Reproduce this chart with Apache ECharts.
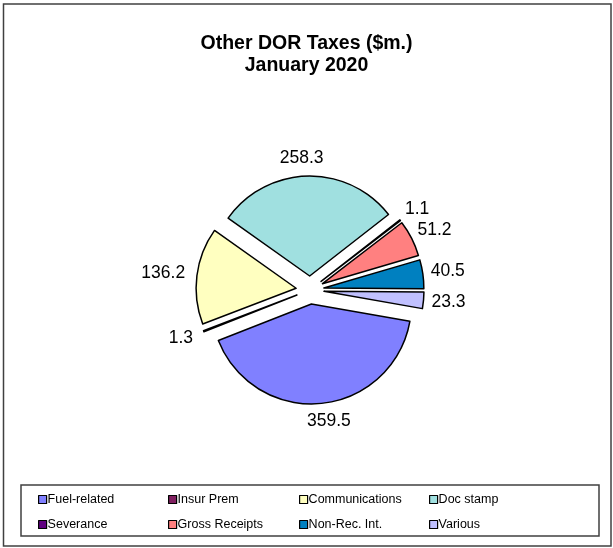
<!DOCTYPE html>
<html>
<head>
<meta charset="utf-8">
<script src="https://cdn.jsdelivr.net/npm/echarts@6/dist/echarts.min.js"></script>
<style>
  html, body { margin: 0; padding: 0; background: #fff; }
  #chart { width: 613px; height: 548px; }
</style>
</head>
<body>
<div id="chart"></div>
<script>
// data
const categories = ['Fuel-related', 'Insur Prem', 'Communications', 'Doc stamp',
  'Severance', 'Gross Receipts', 'Non-Rec. Int.', 'Various'];
const values = [359.5, 1.3, 136.2, 258.3, 1.1, 51.2, 40.5, 23.3];
const colors = ['#8080FF', '#802060', '#FFFFC0', '#A0E0E0',
  '#600080', '#FF8080', '#0080C0', '#C0C0FF'];

// legend laid out as 4 columns of 2 rows
const legendCols = [
  ['Fuel-related', 'Severance'],
  ['Insur Prem', 'Gross Receipts'],
  ['Communications', 'Non-Rec. Int.'],
  ['Doc stamp', 'Various']
];
const legendLeft = [38, 168, 299, 429];

const font = 'Arial, "Liberation Sans", sans-serif';
const labelSize = 17.5;

const pieCenter = [310, 290];
const pieRadius = 100;
const explode = 14;
const labelGap = 11;
const startDeg = 100; // first slice starts here, clockwise from 12 o'clock

// mid angle of every slice, clockwise from 12 o'clock (radians)
const total = values.reduce((a, b) => a + b, 0);
const midAngles = [];
let acc = 0;
values.forEach(v => {
  midAngles.push((startDeg + (acc + v / 2) / total * 360) * Math.PI / 180);
  acc += v;
});

// text width, to push labels out like Excel does
const ctx = document.createElement('canvas').getContext('2d');
ctx.font = labelSize + 'px ' + font;
const textWidth = s => ctx.measureText(s).width;

const myChart = echarts.init(document.getElementById('chart'), null, { renderer: 'canvas' });

const option = {
  animation: false,
  color: colors,
  title: {
    text: 'Other DOR Taxes ($m.)\nJanuary 2020',
    left: 'center',
    top: 28,
    textStyle: {
      fontFamily: font,
      fontSize: 19.5,
      fontWeight: 'bold',
      color: '#000',
      lineHeight: 22
    }
  },
  legend: legendCols.map((names, i) => ({
    data: names,
    orient: 'vertical',
    left: legendLeft[i],
    top: 493,
    padding: 0,
    itemGap: 12,
    itemWidth: 8,
    itemHeight: 8,
    icon: 'rect',
    itemStyle: { borderColor: '#000', borderWidth: 1.2 },
    textStyle: { fontFamily: font, fontSize: 12.5, color: '#000', padding: [0, 0, 0, -4] },
    selectedMode: false
  })),
  graphic: [
    {
      type: 'rect',
      shape: { x: 3.5, y: 4, width: 607.5, height: 542 },
      style: { fill: 'none', stroke: '#404040', lineWidth: 1.5 },
      z: 100
    },
    {
      type: 'rect',
      shape: { x: 21, y: 485, width: 578, height: 51 },
      style: { fill: 'none', stroke: '#404040', lineWidth: 1.5 },
      z: 100
    }
  ],
  series: [
    {
      type: 'pie',
      center: pieCenter,
      radius: pieRadius,
      startAngle: 90 - startDeg,
      clockwise: true,
      selectedMode: 'multiple',
      selectedOffset: explode,
      avoidLabelOverlap: false,
      itemStyle: { borderColor: '#000', borderWidth: 1.5 },
      label: {
        show: true,
        position: 'outside',
        formatter: p => p.value.toFixed(1),
        fontFamily: font,
        fontSize: labelSize,
        color: '#000'
      },
      labelLine: { show: false, length: labelGap, length2: 0 },
      labelLayout: function (params) {
        const i = params.dataIndex;
        const a = midAngles[i];
        const ux = Math.sin(a);
        const uy = -Math.cos(a);
        const w = textWidth(values[i].toFixed(1));
        const h = labelSize * 0.8;
        return {
          dx: ux * w / 2 + (ux < 0 ? 4 : 8) * -ux,
          dy: uy * h / 2,
          align: 'center',
          verticalAlign: 'middle'
        };
      },
      emphasis: { disabled: true },
      data: categories.map((name, i) => ({ name: name, value: values[i], selected: true }))
    }
  ]
};

myChart.setOption(option);
</script>
</body>
</html>
